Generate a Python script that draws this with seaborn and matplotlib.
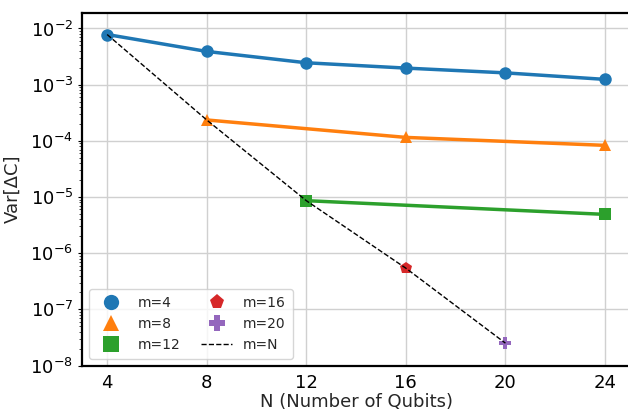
import numpy as np
import pandas as pd
import seaborn as sns
import matplotlib.pyplot as plt

# data
n_m4 = [4, 8, 12, 16, 20, 24]
var_m4 = [7.8e-3, 3.9e-3, 2.45e-3, 1.97e-3, 1.62e-3, 1.24e-3]
n_m8 = [8, 16, 24]
var_m8 = [2.35e-4, 1.15e-4, 8.3e-5]
n_m12 = [12, 24]
var_m12 = [8.6e-6, 4.9e-6]
n_m16 = [16]
var_m16 = [5.4e-7]
n_m20 = [20]
var_m20 = [2.5e-8]
n_mN = [4, 8, 12, 16, 20]
var_mN = [7.8e-3, 2.35e-4, 8.6e-6, 5.4e-7, 2.5e-8]

sns.set_style("whitegrid", {"axes.edgecolor": "black", "xtick.bottom": False,
                            "ytick.left": True, "grid.color": "#d0d0d0"})
plt.rcParams['font.family'] = ['DejaVu Sans']

fig, ax = plt.subplots(figsize=(6.28, 4.13), dpi=100)
pal = sns.color_palette("tab10")

series = [(n_m4, var_m4, "m=4", "o"), (n_m8, var_m8, "m=8", "^"),
          (n_m12, var_m12, "m=12", "s"), (n_m16, var_m16, "m=16", "p"),
          (n_m20, var_m20, "m=20", "P")]
for i, (x, y, lab, mk) in enumerate(series):
    sns.lineplot(x=x, y=y, ax=ax, color=pal[i], marker=mk, markersize=9,
                 linewidth=2.5, markeredgewidth=0, label=lab)
sns.lineplot(x=n_mN, y=var_mN, ax=ax, color="black", linestyle="--",
             linewidth=1, label="m=N")

ax.set_yscale("log")
ax.set_ylim(1e-8, 1.9e-2)
ax.set_xlim(3, 25)
ax.set_xticks([4, 8, 12, 16, 20, 24])
ax.set_xlabel("N (Number of Qubits)", fontsize=13, labelpad=1)
ax.set_ylabel("Var[ΔC]", fontsize=13, labelpad=6)
ax.tick_params(axis="both", labelsize=13, colors="black", length=3)
ax.tick_params(axis="x", length=0, pad=6)
ax.tick_params(axis="y", which="minor", left=True, length=2)
for s in ax.spines.values():
    s.set_linewidth(1.6)
leg = ax.legend(loc="lower left", ncol=2, fontsize=10, frameon=True,
                columnspacing=1.5, handlelength=2.2, borderpad=0.5)
for h in leg.legend_handles[:5]:
    h.set_linestyle("None")
    h.set_markersize(11)
ax.grid(True, which="major", linewidth=1)
ax.grid(False, which="minor")

fig.subplots_adjust(left=0.131, right=1.003, top=0.969, bottom=0.115)
plt.savefig("out.png", dpi=100)
